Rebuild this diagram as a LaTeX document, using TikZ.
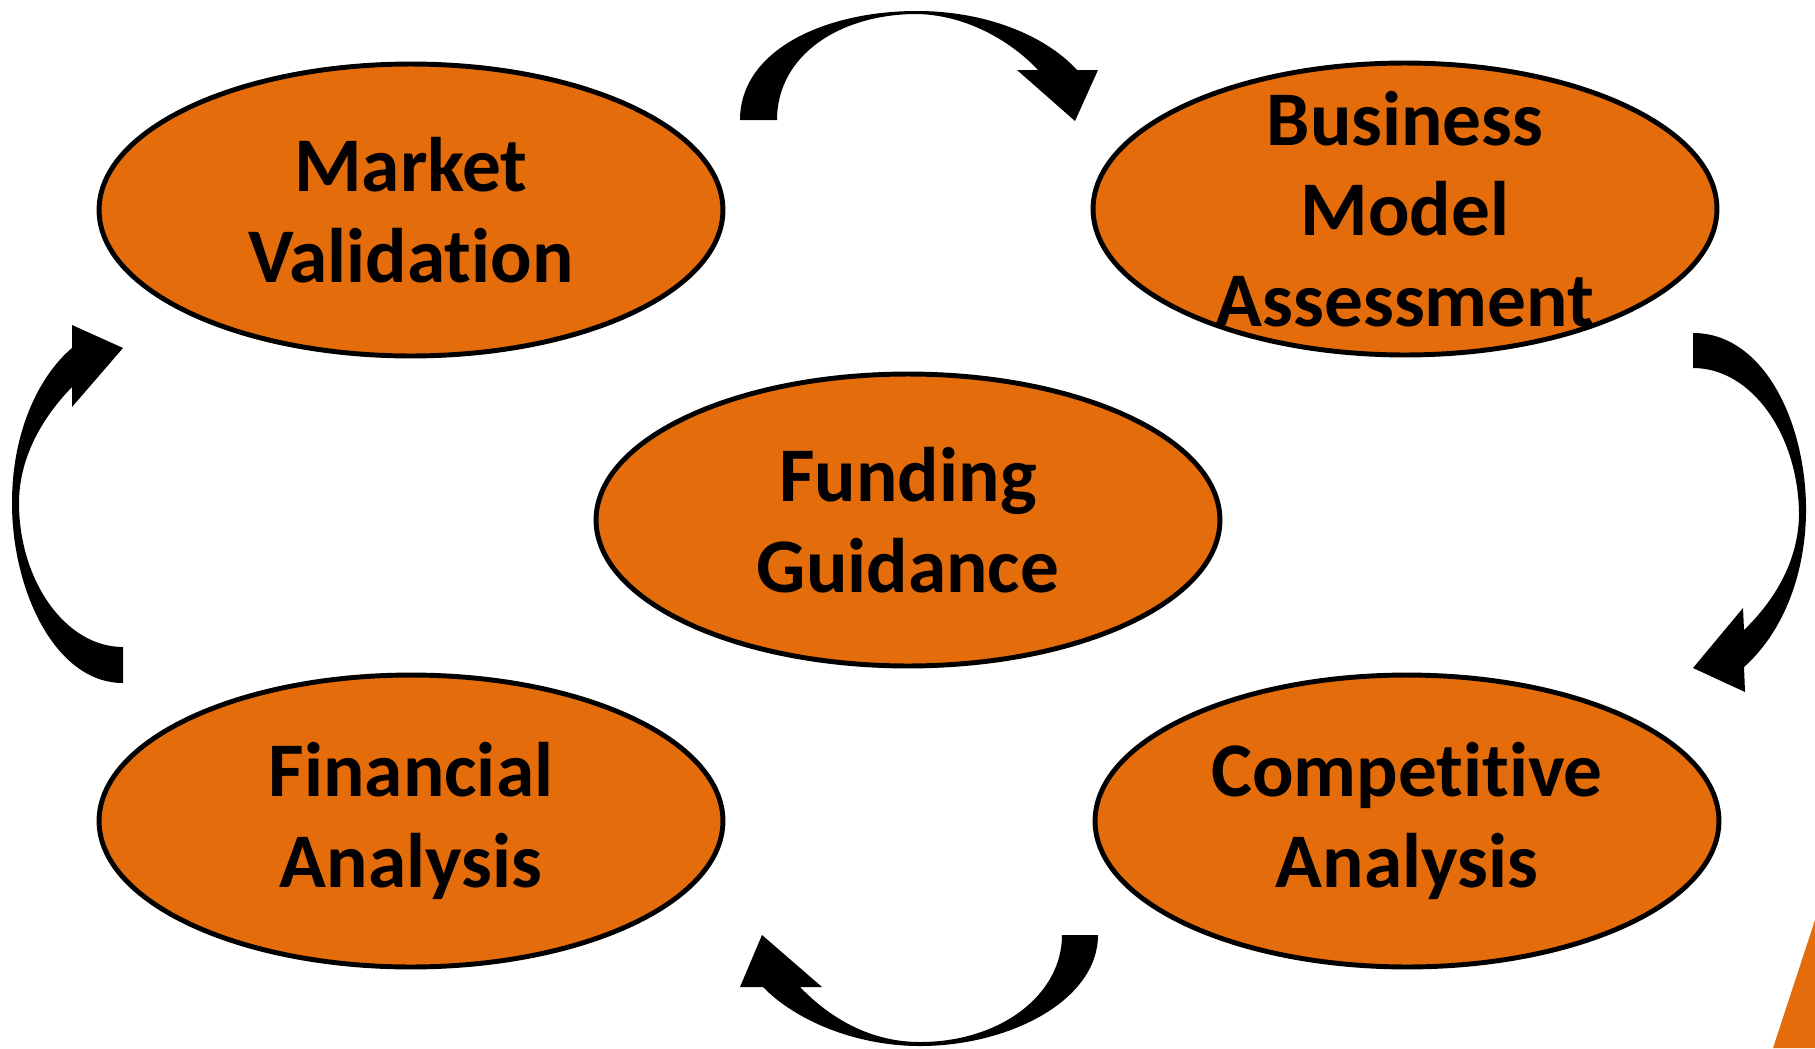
\documentclass[tikz,border=0pt]{standalone}
\usepackage{fontspec}
\setmainfont{Carlito}[Ligatures=NoCommon]
\usetikzlibrary{shapes.geometric}
\definecolor{orange}{RGB}{228,108,10}

\begin{document}
\begin{tikzpicture}[x=0.02cm,y=-0.02cm,
  stage/.style={ellipse,draw=black,line width=2.8pt,fill=orange,minimum width=12.48cm,minimum height=5.84cm,inner sep=0pt},
  stagetext/.style={inner sep=0pt,align=center,font=\fontsize{44}{51.5}\selectfont\bfseries},
  bentarrow/.style={fill=black}]
\useasboundingbox (0,0) rectangle (1815,1048);

\node[stage] (market) at (411,210) {};
\node[stage] (business) at (1405,209) {};
\node[stage] (funding) at (908,520) {};
\node[stage] (financial) at (411,821) {};
\node[stage] (competitive) at (1407,821) {};

\node[stagetext] at (market) {Market\\Validation};
\node[stagetext] at (business) {Business\\Model\\Assessment};
\node[stagetext] at (funding) {Funding\\Guidance};
\node[stagetext] at (financial) {Financial\\Analysis};
\node[stagetext] at (competitive) {Competitive\\Analysis};

\fill[bentarrow] (740,120) -- (777,120) .. controls (777,55) and (840,14) .. (917,14) .. controls (970,15) and (1015,45) .. (1038,70) -- (1017,70) -- (1075,121) -- (1098,70) -- (1077,70) .. controls (1045,35) and (985,11) .. (917,11) .. controls (825,11) and (740,50) .. (740,120) -- cycle;
\fill[bentarrow] (1693,333) .. controls (1765,333) and (1807,425) .. (1806,513) .. controls (1805,580) and (1780,635) .. (1744,667) -- (1745,692) -- (1693,668) -- (1743,608) -- (1744,630) .. controls (1775,600) and (1799,560) .. (1799,513) .. controls (1798,435) and (1752,368) .. (1693,368) -- cycle;
\fill[bentarrow] (1098,935) .. controls (1098,1000) and (1010,1046) .. (920,1046) .. controls (855,1046) and (795,1020) .. (763,987) -- (740,987) -- (762,935) -- (822,987) -- (800,987) .. controls (830,1018) and (870,1042) .. (920,1042) .. controls (1000,1042) and (1062,995) .. (1062,935) -- cycle;
\fill[bentarrow] (123,683) .. controls (55,683) and (12,590) .. (12,503) .. controls (12,430) and (40,375) .. (72,348) -- (72,325) -- (123,348) -- (72,407) -- (72,387) .. controls (40,420) and (19,460) .. (19,503) .. controls (19,580) and (65,647) .. (123,647) -- cycle;

\fill[orange] (1773,1048) -- (1815,920) -- (1815,1048) -- cycle;
\end{tikzpicture}
\end{document}
